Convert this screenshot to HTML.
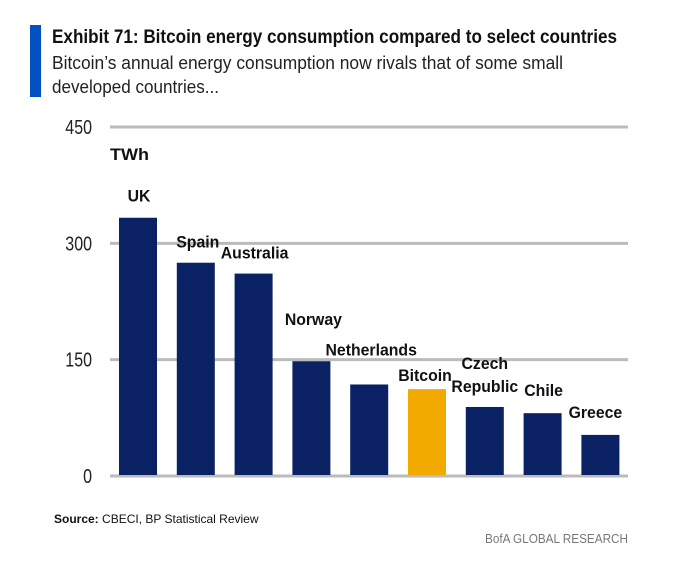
<!DOCTYPE html>
<html><head><meta charset="utf-8"><style>
body{margin:0;background:#fff;}
svg{display:block;font-family:"Liberation Sans",sans-serif;}
</style></head><body>
<svg width="676" height="570" viewBox="0 0 676 570">
<rect x="30" y="25" width="11" height="72" fill="#0052c2"/>
<text x="52" y="43" font-size="19" font-weight="bold" fill="#111" textLength="565" lengthAdjust="spacingAndGlyphs">Exhibit 71: Bitcoin energy consumption compared to select countries</text>
<text x="52" y="69" font-size="18" fill="#222" textLength="511" lengthAdjust="spacingAndGlyphs">Bitcoin’s annual energy consumption now rivals that of some small</text>
<text x="52" y="93" font-size="18" fill="#222" textLength="167" lengthAdjust="spacingAndGlyphs">developed countries...</text>
<g id="grid"></g>
<g id="bars"></g>
<text x="110" y="160" font-size="17" font-weight="bold" fill="#111" textLength="39" lengthAdjust="spacingAndGlyphs">TWh</text>
<text x="54" y="523" font-size="12" fill="#111"><tspan font-weight="bold">Source:</tspan> CBECI, BP Statistical Review</text>
<text x="628" y="543" font-size="13" fill="#777" text-anchor="end" textLength="143" lengthAdjust="spacingAndGlyphs">BofA GLOBAL RESEARCH</text>
</svg>
<script>
const categories=["UK","Spain","Australia","Norway","Netherlands","Bitcoin","Czech\nRepublic","Chile","Greece"];
const values=[333,275,261,148,118,112,89,81,53];
const ticks=[0,150,300,450];
const labelGap=[16,15,15,36,29,8,15,17,17];
const labelShift=[1,2,1,2,2,-2,0,1,-5];
const NS="http://www.w3.org/2000/svg";
const y0=476,yTop=127,x0=110,x1=628;
const y=v=>y0-(v/450)*(y0-yTop);
const step=57.8,bw=38,first=119;
const xb=i=>first+i*step;
const grid=document.getElementById('grid'),bars=document.getElementById('bars');
function mk(tag,attrs,parent){const e=document.createElementNS(NS,tag);for(const k in attrs)e.setAttribute(k,attrs[k]);parent.appendChild(e);return e;}
ticks.forEach(t=>{
 const l=mk('line',{x1:x0,x2:x1,y1:y(t),y2:y(t),stroke:'#bbb','stroke-width':3},grid);
 
 
 const tx=mk('text',{x:92,y:y(t)+7,'font-size':20,'text-anchor':'end',fill:'#222'},grid);
 tx.textContent=t;
 
 
 const w=tx.getComputedTextLength();
 tx.setAttribute('textLength',w*0.8);
 tx.setAttribute('lengthAdjust','spacingAndGlyphs');
});
categories.forEach((c,i)=>{
 const r=mk('rect',{x:xb(i),y:y(values[i]),width:bw,height:y0-1-y(values[i]),fill:c==='Bitcoin'?'#f2a900':'#0a2164'},bars);
 
 
 const lines=c.split('\n');
 const g=mk('g',{},bars);
 
 
 lines.forEach((ln,j)=>{
  const t=mk('text',{x:xb(i)+bw/2+labelShift[i],y:y(values[i])-labelGap[i]-(lines.length-1-j)*23,'font-size':17,'font-weight':'bold',fill:'#111','text-anchor':'middle'},g);
  t.textContent=ln;
  const w=t.getComputedTextLength();
  t.setAttribute('textLength',w*0.93);
  t.setAttribute('lengthAdjust','spacingAndGlyphs');
 });
});
</script>
</body></html>
